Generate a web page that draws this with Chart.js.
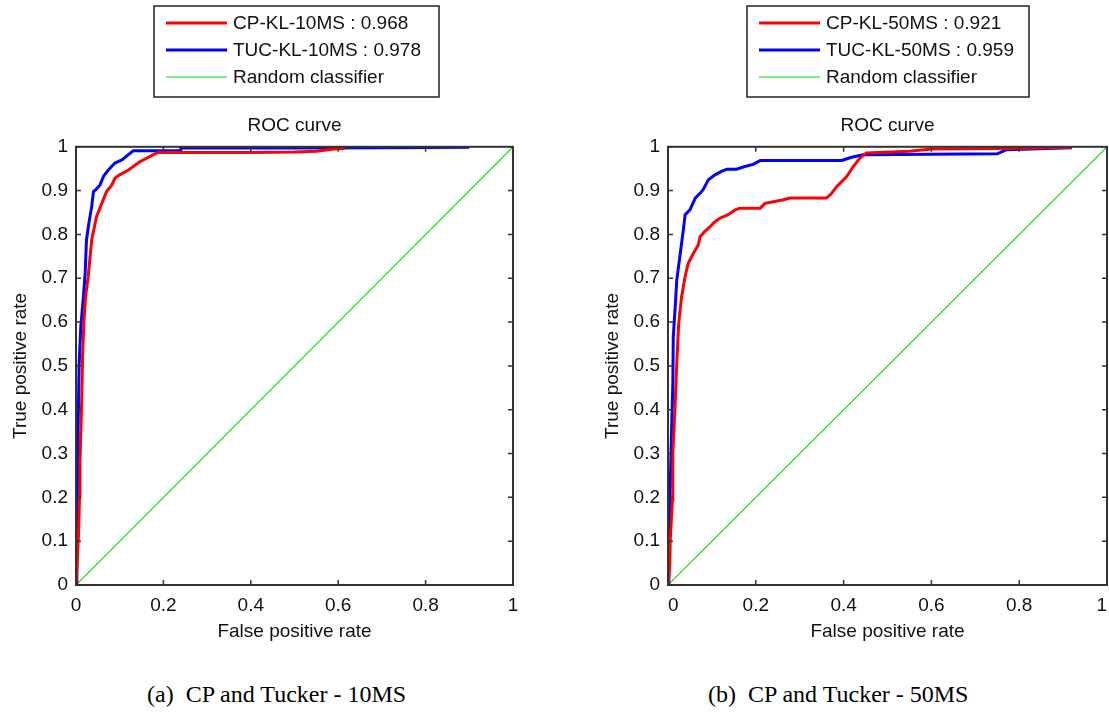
<!DOCTYPE html>
<html>
<head>
<meta charset="utf-8">
<script src="https://cdn.jsdelivr.net/npm/chart.js@4.4.1/dist/chart.umd.min.js"></script>
<style>
  body { margin: 0; background: #fff; width: 1109px; height: 722px; overflow: hidden; position: relative; }
  canvas { position: absolute; top: 0; }
  #rocA { left: 0; }
  #rocB { left: 555px; }
  .caption { position: absolute; top: 681px; font-family: 'Liberation Serif', 'Times New Roman', serif; font-size: 24px; color: #000; white-space: pre; }
</style>
</head>
<body>
<canvas id="rocA" width="555" height="660"></canvas>
<canvas id="rocB" width="554" height="660"></canvas>
<div class="caption" style="left:147px">(a)  CP and Tucker - 10MS</div>
<div class="caption" style="left:708px">(b)  CP and Tucker - 50MS</div>
<script>
// axis ticks (both panels)
const xTicks = [0, 0.2, 0.4, 0.6, 0.8, 1];
const yTicks = [0, 0.1, 0.2, 0.3, 0.4, 0.5, 0.6, 0.7, 0.8, 0.9, 1];

// random classifier diagonal
const randFpr = [0, 1];
const randTpr = [0, 1];

// (a) 10MS
const cp10Label = 'CP-KL-10MS : 0.968';
const cp10Fpr = [0, 0.004, 0.006, 0.008, 0.009, 0.011, 0.013, 0.015, 0.018, 0.022, 0.028, 0.036, 0.047, 0.059, 0.070, 0.082, 0.089, 0.100, 0.120, 0.131, 0.146, 0.162, 0.177, 0.188, 0.30, 0.40, 0.50, 0.55, 0.59, 0.615];
const cp10Tpr = [0, 0.08, 0.12, 0.20, 0.28, 0.35, 0.42, 0.52, 0.60, 0.66, 0.704, 0.788, 0.841, 0.871, 0.898, 0.913, 0.928, 0.936, 0.947, 0.955, 0.966, 0.974, 0.982, 0.987, 0.987, 0.987, 0.988, 0.990, 0.995, 0.996];
const tuc10Label = 'TUC-KL-10MS : 0.978';
const tuc10Fpr = [0, 0.002, 0.004, 0.007, 0.011, 0.017, 0.021, 0.024, 0.030, 0.036, 0.040, 0.046, 0.055, 0.063, 0.074, 0.089, 0.105, 0.120, 0.131, 0.238, 0.240, 0.50, 0.70, 0.90];
const tuc10Tpr = [0, 0.10, 0.30, 0.50, 0.59, 0.658, 0.712, 0.788, 0.829, 0.864, 0.898, 0.903, 0.913, 0.933, 0.947, 0.963, 0.970, 0.982, 0.991, 0.991, 0.997, 0.997, 0.998, 0.999];

// (b) 50MS
const cp50Label = 'CP-KL-50MS : 0.921';
const cp50Fpr = [0, 0.004, 0.005, 0.010, 0.011, 0.016, 0.020, 0.024, 0.026, 0.031, 0.039, 0.046, 0.058, 0.069, 0.073, 0.084, 0.096, 0.107, 0.118, 0.137, 0.153, 0.164, 0.210, 0.221, 0.263, 0.278, 0.361, 0.373, 0.384, 0.407, 0.422, 0.437, 0.452, 0.55, 0.60, 0.75, 0.85, 0.92];
const cp50Tpr = [0, 0.046, 0.10, 0.194, 0.30, 0.407, 0.507, 0.59, 0.613, 0.658, 0.704, 0.734, 0.757, 0.776, 0.795, 0.807, 0.818, 0.829, 0.837, 0.845, 0.856, 0.860, 0.860, 0.871, 0.879, 0.883, 0.883, 0.894, 0.909, 0.932, 0.955, 0.974, 0.986, 0.990, 0.995, 0.996, 0.997, 0.999];
const tuc50Label = 'TUC-KL-50MS : 0.959';
const tuc50Fpr = [0, 0.002, 0.007, 0.011, 0.012, 0.016, 0.020, 0.027, 0.029, 0.035, 0.039, 0.050, 0.062, 0.073, 0.080, 0.092, 0.107, 0.122, 0.134, 0.156, 0.175, 0.194, 0.210, 0.396, 0.418, 0.445, 0.75, 0.77, 0.92];
const tuc50Tpr = [0, 0.10, 0.308, 0.46, 0.567, 0.628, 0.696, 0.75, 0.765, 0.811, 0.845, 0.856, 0.883, 0.894, 0.902, 0.925, 0.936, 0.944, 0.949, 0.949, 0.955, 0.960, 0.969, 0.969, 0.976, 0.982, 0.984, 0.993, 0.998];

const randLabel = 'Random classifier';

const FONT = "'Liberation Sans', Arial, Helvetica, sans-serif";
const TEXT = '#111';
const font = { family: FONT, size: 19, lineHeight: 1.2, weight: 'normal' };

function toPoints(xs, ys) {
  return xs.map((x, i) => ({ x, y: ys[i] }));
}

// boxed frame with inward ticks on all four sides, plus the stacked legend box
const matlabFrame = {
  id: 'matlabFrame',
  afterDatasetsDraw(chart) {
    const { ctx, chartArea: a, scales: { x, y } } = chart;
    ctx.save();
    ctx.strokeStyle = '#333';
    ctx.lineWidth = 1.5;
    ctx.beginPath();
    for (const t of x.ticks) {
      const px = x.getPixelForValue(t.value);
      ctx.moveTo(px, a.bottom); ctx.lineTo(px, a.bottom - 5);
      ctx.moveTo(px, a.top); ctx.lineTo(px, a.top + 5);
    }
    for (const t of y.ticks) {
      const py = y.getPixelForValue(t.value);
      ctx.moveTo(a.left, py); ctx.lineTo(a.left + 5, py);
      ctx.moveTo(a.right, py); ctx.lineTo(a.right - 5, py);
    }
    ctx.stroke();
    ctx.lineWidth = 2;
    ctx.strokeRect(a.left, a.top, a.right - a.left, a.bottom - a.top);
    ctx.restore();
  },
  afterDraw(chart, args, opts) {
    const box = opts.box;
    if (!box) return;
    const ctx = chart.ctx;
    ctx.save();
    ctx.fillStyle = '#fff';
    ctx.fillRect(box.left, box.top, box.width, box.height);
    ctx.strokeStyle = '#222';
    ctx.lineWidth = 1.5;
    ctx.strokeRect(box.left, box.top, box.width, box.height);
    ctx.font = `${font.size}px ${FONT}`;
    ctx.textBaseline = 'middle';
    ctx.fillStyle = TEXT;
    chart.data.datasets.forEach((ds, i) => {
      const cy = box.top + 17 + i * 27;
      ctx.strokeStyle = ds.borderColor;
      ctx.lineWidth = ds.borderWidth;
      ctx.beginPath();
      ctx.moveTo(box.left + 12, cy);
      ctx.lineTo(box.left + 73, cy);
      ctx.stroke();
      ctx.fillText(ds.label, box.left + 79, cy + 1);
    });
    ctx.restore();
  }
};

function buildRocChart(canvas, series, layout) {
  return new Chart(canvas.getContext('2d'), {
    type: 'line',
    data: {
      datasets: [
        { label: series[0].label, data: toPoints(series[0].fpr, series[0].tpr), borderColor: '#ff0000', borderWidth: 3 },
        { label: series[1].label, data: toPoints(series[1].fpr, series[1].tpr), borderColor: '#0000ff', borderWidth: 3 },
        { label: randLabel, data: toPoints(randFpr, randTpr), borderColor: '#00e600', borderWidth: 1.2 }
      ]
    },
    options: {
      responsive: false,
      animation: false,
      events: [],
      elements: { point: { radius: 0 }, line: { tension: 0 } },
      layout: { padding: { top: 114, left: layout.left, right: layout.right, bottom: 0 } },
      plugins: {
        legend: { display: false },
        tooltip: { enabled: false },
        title: { display: true, fullSize: false, text: 'ROC curve', color: TEXT, font, padding: { top: 0, bottom: 10 } },
        matlabFrame: { box: layout.legend }
      },
      scales: {
        x: {
          type: 'linear', min: 0, max: 1,
          afterBuildTicks: s => { s.ticks = xTicks.map(v => ({ value: v })); },
          afterFit: s => { s.height = 75; s.paddingLeft = 0; s.paddingRight = 0; },
          grid: { display: false, drawTicks: false },
          border: { display: false },
          ticks: { padding: 9, align: layout.tickAlign, color: TEXT, font, maxRotation: 0, autoSkip: false, callback: v => String(v) },
          title: { display: true, text: 'False positive rate', color: TEXT, font, padding: { top: 0, bottom: 17 } }
        },
        y: {
          type: 'linear', min: 0, max: 1,
          afterBuildTicks: s => { s.ticks = yTicks.map(v => ({ value: v })); },
          afterFit: s => { s.width = 76; s.paddingTop = 0; s.paddingBottom = 0; },
          grid: { display: false, drawTicks: false },
          border: { display: false },
          ticks: { padding: 8, color: TEXT, font, autoSkip: false, callback: v => String(v) },
          title: { display: true, text: 'True positive rate', color: TEXT, font, padding: { top: 9, bottom: 0 } }
        }
      }
    },
    plugins: [matlabFrame]
  });
}

buildRocChart(document.getElementById('rocA'), [
  { label: cp10Label, fpr: cp10Fpr, tpr: cp10Tpr },
  { label: tuc10Label, fpr: tuc10Fpr, tpr: tuc10Tpr }
], { left: 0, right: 42, tickAlign: 'center', legend: { left: 154, top: 6, width: 285, height: 91 } });

// right panel sits against the page edge, so its end labels are kept inside the axis
buildRocChart(document.getElementById('rocB'), [
  { label: cp50Label, fpr: cp50Fpr, tpr: cp50Tpr },
  { label: tuc50Label, fpr: tuc50Fpr, tpr: tuc50Tpr }
], { left: 37, right: 2, tickAlign: 'inner', legend: { left: 192, top: 6, width: 282, height: 91 } });
</script>
</body>
</html>
